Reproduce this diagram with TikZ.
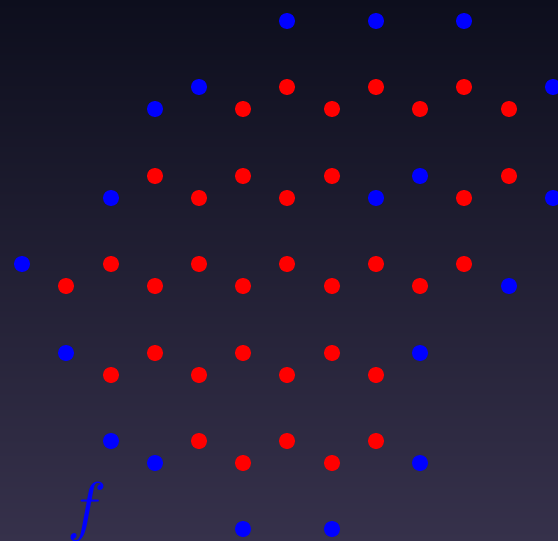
\documentclass[tikz,border=0pt]{standalone}
\usepackage{amsmath,amssymb}
\usepackage{tikz}

\definecolor{bgtop}{RGB}{13,14,29}
\definecolor{bgbot}{RGB}{54,49,75}

\begin{document}
\begin{tikzpicture}[x=1pt,y=-1pt]
    \tikzstyle{reddot}=[fill=red]
    \tikzstyle{bluedot}=[fill=blue]

    \useasboundingbox (0,0) rectangle (558,541);
    \shade[top color=bgtop, bottom color=bgbot] (0,0) rectangle (558,541);

    % interior sites
    \foreach \x/\y in {287/87,376/87,464/87,243/109,332/109,420/109,509/109,
                       155/176,243/176,332/176,509/176,199/198,287/198,464/198,
                       111/264,199/264,287/264,376/264,464/264,
                       66/286,155/286,243/286,332/286,420/286,
                       155/353,243/353,332/353,111/375,199/375,287/375,376/375,
                       199/441,287/441,376/441,243/463,332/463}
      {\fill[reddot] (\x,\y) circle (8pt);}

    % boundary sites
    \foreach \x/\y in {287/21,376/21,464/21,199/87,553/87,155/109,
                       420/176,111/198,376/198,553/198,22/264,509/286,
                       66/353,420/353,111/441,155/463,420/463,243/529,332/529}
      {\fill[bluedot] (\x,\y) circle (8pt);}

    \node[text=blue, scale=6.6, anchor=base, inner sep=0pt] (flabel) at (87,528) {$f$};
\end{tikzpicture}
\end{document}
